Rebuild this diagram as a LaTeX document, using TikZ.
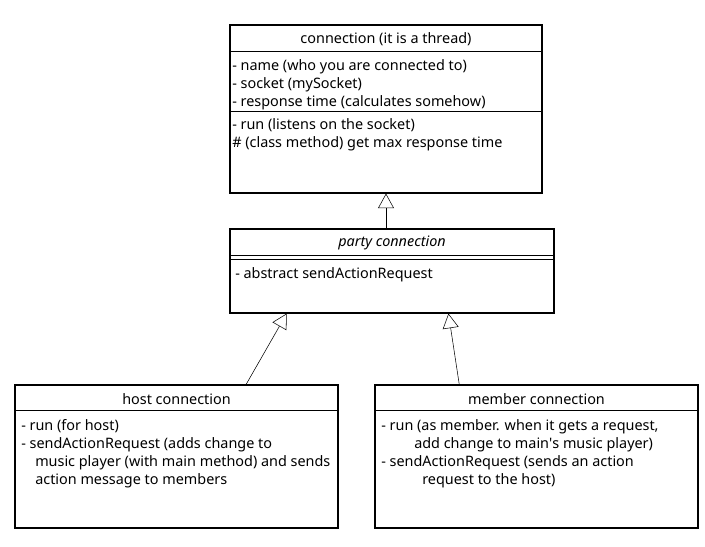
\documentclass[tikz,border=0pt]{standalone}
\usepackage{fontspec}
\setmainfont{Noto Sans}
\usetikzlibrary{positioning,arrows.meta}

\begin{document}
\begin{tikzpicture}[x=0.75pt,y=-0.75pt,>={Triangle[open,length=11pt,width=12pt]},
  cls/.style={draw,line width=0.8pt,inner sep=0pt},
  ttl/.style={font=\fontsize{10.8}{13}\selectfont,inner sep=0pt},
  mbr/.style={font=\fontsize{10.8}{13.5}\selectfont,align=left,anchor=north west,inner sep=0pt}]
\useasboundingbox (0,0) rectangle (705,546);
% class boxes
\node[cls,minimum width=234pt,minimum height=126pt] (conn) at (386,109) {};
\node[cls,minimum width=243pt,minimum height=63pt] (party) at (392,271) {};
\node[cls,minimum width=242.25pt,minimum height=107.25pt] (host) at (176.5,456.5) {};
\node[cls,minimum width=242.25pt,minimum height=107.25pt] (member) at (536.5,456.5) {};
% compartment lines
\draw[line width=0.8pt] (conn.north west) ++(0,27) -- ++(312,0);
\draw[line width=0.8pt] (conn.north west) ++(0,87) -- ++(312,0);
\draw[line width=0.8pt] (party.north west) ++(0,27) -- ++(324,0);
\draw[line width=0.8pt] (party.north west) ++(0,31) -- ++(324,0);
\draw[line width=0.8pt] (host.north west) ++(0,26) -- ++(323,0);
\draw[line width=0.8pt] (member.north west) ++(0,26) -- ++(323,0);
% titles
\node[ttl] (conntitle) at (386,39) {connection (it is a thread)};
\node[ttl] (partytitle) at (392,243) {\itshape party connection};
\node[ttl] (hosttitle) at (176.5,399) {host connection};
\node[ttl] (membertitle) at (536.5,399) {member connection};
% members
\node[mbr] (connattr) at (232,59) {- name (who you are connected to)\\- socket (mySocket)\\- response time (calculates somehow)};
\node[mbr] (connmeth) at (232,118) {- run (listens on the socket)\\\# (class method) get max response time};
\node[mbr] (partymeth) at (235,267) {- abstract sendActionRequest};
\node[mbr] (hostmeth) at (21,419) {- run (for host)\\- sendActionRequest (adds change to\\\hspace*{10.5pt}music player (with main method) and sends\\\hspace*{10.5pt}action message to members};
\node[mbr] (membermeth) at (381,419) {- run (as member. when it gets a request,\\\hspace*{24.75pt}add change to main\textquotesingle s music player)\\- sendActionRequest (sends an action\\\hspace*{30.75pt}request to the host)};
% generalisations
\draw[->] (party.north -| conn.south) -- (conn.south);
\draw[->] (host.46.9) -- (party.202);
\draw[->] (member.137.7) -- (party.323.1);
\end{tikzpicture}
\end{document}
